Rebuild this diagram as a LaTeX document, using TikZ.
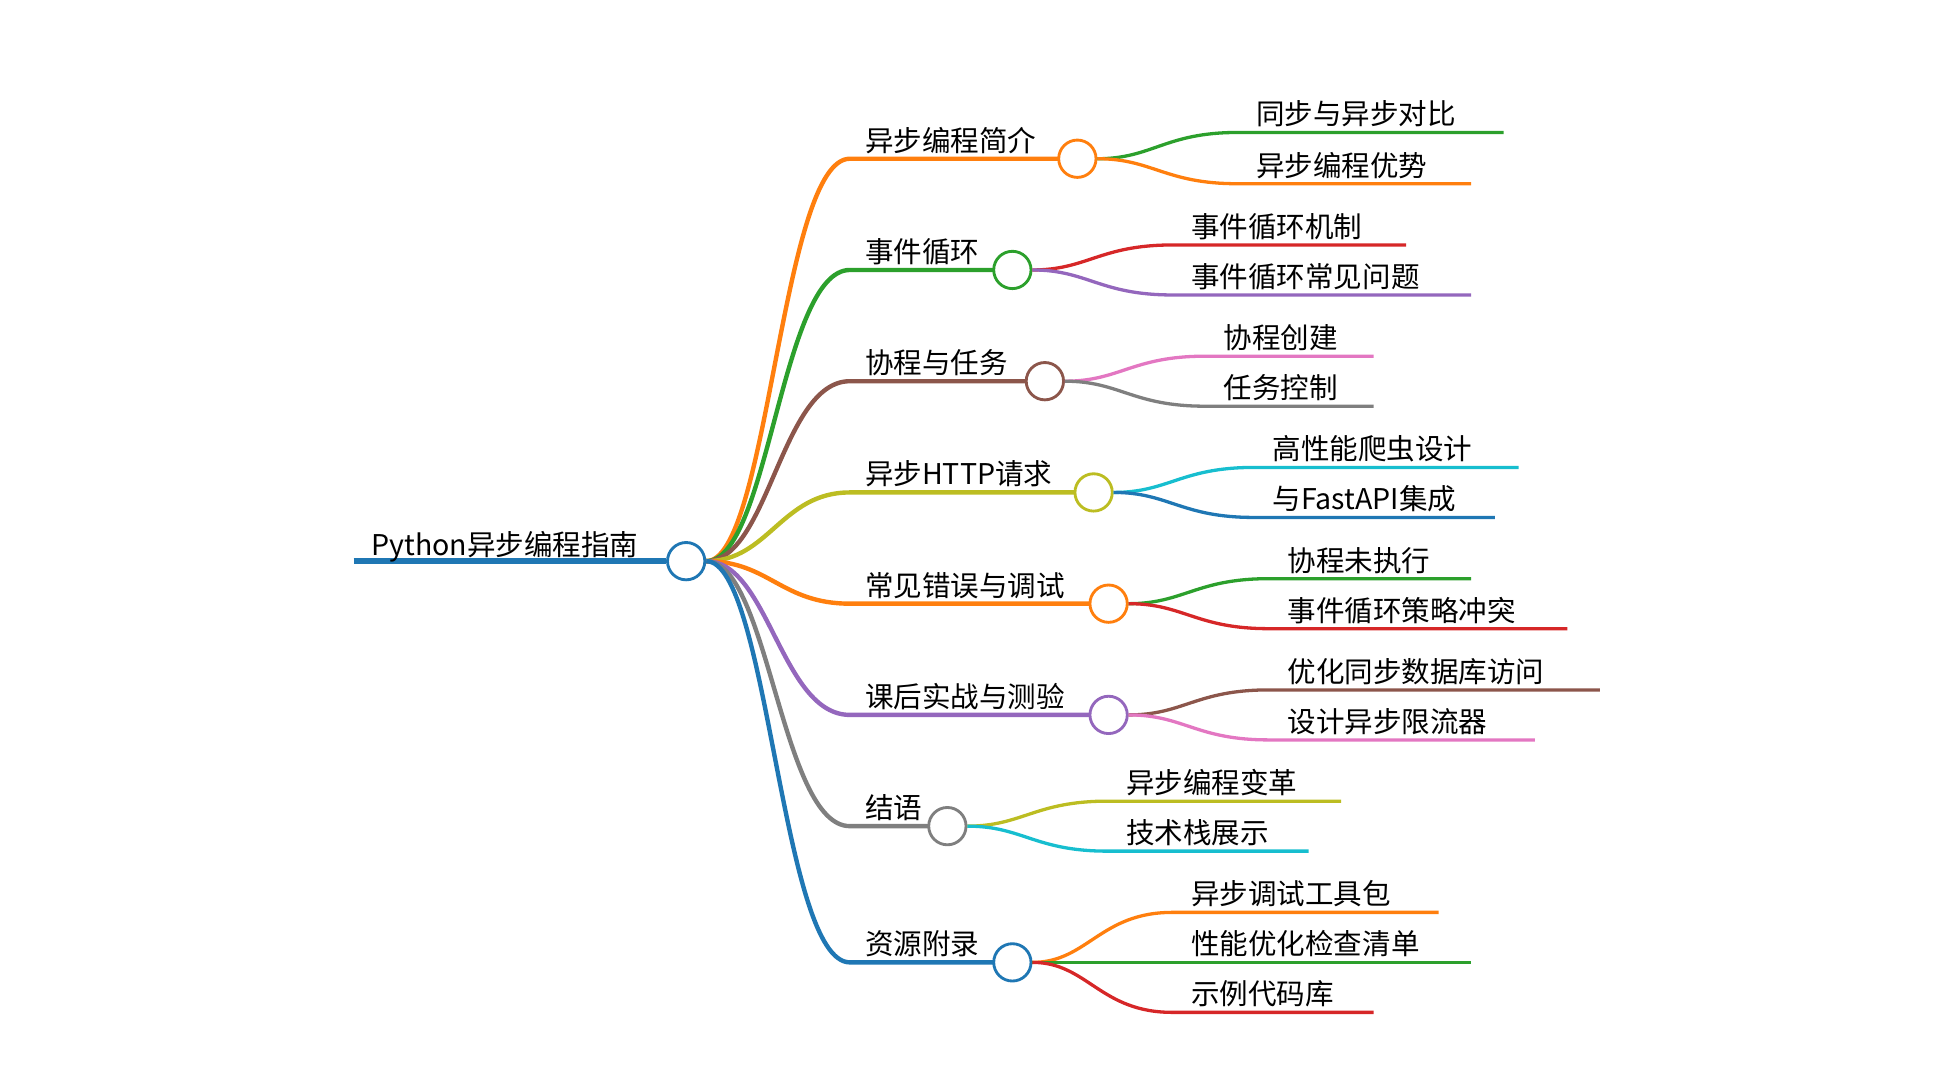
\documentclass[tikz,border=0pt]{standalone}
\usepackage{fontspec}
\setmainfont{Noto Sans CJK SC}
\usetikzlibrary{positioning}
\definecolor{cBlue}{RGB}{31,119,180}
\definecolor{cOrange}{RGB}{255,127,14}
\definecolor{cGreen}{RGB}{44,160,44}
\definecolor{cRed}{RGB}{214,39,40}
\definecolor{cPurple}{RGB}{148,103,189}
\definecolor{cBrown}{RGB}{140,86,75}
\definecolor{cPink}{RGB}{227,119,194}
\definecolor{cGray}{RGB}{127,127,127}
\definecolor{cOlive}{RGB}{188,189,34}
\definecolor{cCyan}{RGB}{23,190,207}
\tikzset{
  dot/.style={circle,draw,fill=white,line width=1.3pt,minimum size=17pt,inner sep=0pt},
  lbl/.style={anchor=south west,inner sep=1pt,font=\fontsize{13}{13}\selectfont},
}
\begin{document}
\begin{tikzpicture}[x=0.02cm,y=-0.02cm]
\useasboundingbox (0,0) rectangle (1549,871);
% root
\coordinate (rs) at (283,449);
\node[dot,draw=cBlue] (root) at (549,449) {};
\draw[cBlue,line width=3pt] (rs) -- (root.west);
\node[lbl] (rootlbl) at (295,452) {Python异步编程指南};
% branches: y / circle x / colour / label / children (y,end,colour,label)
\foreach \Y/\X/\C/\T/\Kids in {
  127/862/cOrange/异步编程简介/{106/1203/cGreen/同步与异步对比,147/1177/cOrange/异步编程优势},
  216/810/cGreen/事件循环/{196/1125/cRed/事件循环机制,236/1177/cPurple/事件循环常见问题},
  305/836/cBrown/协程与任务/{285/1099/cPink/协程创建,325/1099/cGray/任务控制},
  394/875/cOlive/异步HTTP请求/{374/1215/cCyan/高性能爬虫设计,414/1196/cBlue/与FastAPI集成},
  483/887/cOrange/常见错误与调试/{463/1177/cGreen/协程未执行,503/1254/cRed/事件循环策略冲突},
  572/887/cPurple/课后实战与测验/{552/1280/cBrown/优化同步数据库访问,592/1228/cPink/设计异步限流器},
  661/758/cGray/结语/{641/1073/cOlive/异步编程变革,681/1047/cCyan/技术栈展示},
  770/810/cBlue/资源附录/{730/1151/cOrange/异步调试工具包,770/1177/cGreen/性能优化检查清单,810/1099/cRed/示例代码库}}
{
  \coordinate (b\Y) at (680,\Y);
  \draw[\C,line width=2pt] (root.east) .. controls (615,449) and (625,\Y) .. (b\Y) -- (\X-9,\Y);
  \node[lbl] (t\Y) at (690,\Y-2) {\T};
  \node[dot,draw=\C] (d\Y) at (\X,\Y) {};
  \foreach \y/\e/\c/\t in \Kids
  {
    \coordinate (h\Y\y) at (\X+128,\y);
    \draw[\c,line width=1.5pt] (d\Y.east) .. controls (\X+60,\Y) and (\X+70,\y) .. (h\Y\y) -- (\e,\y);
    \node[lbl] (k\Y\y) at (\X+141,\y-2) {\t};
  }
}
\end{tikzpicture}
\end{document}
